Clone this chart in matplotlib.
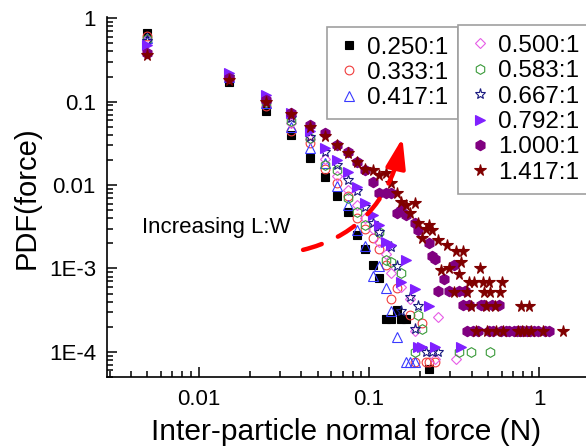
import numpy as np
import matplotlib
matplotlib.use('Agg')
import matplotlib.pyplot as plt

plt.rcParams['font.family'] = ['Liberation Sans', 'DejaVu Sans']

# 长宽比 L:W 各组的接触力分布 (bin 宽 0.01 N)
r250_x = [0.005, 0.015, 0.025, 0.035, 0.045, 0.055, 0.065, 0.075, 0.085, 0.095, 0.105, 0.115,
          0.125, 0.135, 0.145, 0.155, 0.165, 0.225]
r250_y = [0.66, 0.17, 0.078, 0.040, 0.021, 0.0125, 0.0074, 0.0048, 0.0025, 0.0017, 0.0011, 0.00076,
          0.00025, 0.00025, 0.00032, 0.00025, 0.00025, 0.000063]

r333_x = [0.005, 0.015, 0.025, 0.035, 0.045, 0.055, 0.065, 0.075, 0.085, 0.095, 0.105, 0.115,
          0.125, 0.135, 0.145, 0.175, 0.185, 0.205, 0.215, 0.225, 0.245]
r333_y = [0.61, 0.19, 0.089, 0.045, 0.032, 0.0155, 0.0105, 0.0073, 0.0040, 0.0030, 0.0023, 0.0017,
          0.0011, 0.00043, 0.00059, 0.00028, 0.000076, 0.00022, 0.000076, 0.000076, 0.000076]

r417_x = [0.005, 0.015, 0.025, 0.035, 0.045, 0.055, 0.065, 0.075, 0.085, 0.095, 0.105, 0.115,
          0.125, 0.135, 0.145, 0.165, 0.175, 0.185]
r417_y = [0.58, 0.20, 0.095, 0.050, 0.0276, 0.0183, 0.0097, 0.0058, 0.0029, 0.00185, 0.00081, 0.00106,
          0.00059, 0.00031, 0.00015, 0.000076, 0.000076, 0.000076]

r500_x = [0.005, 0.015, 0.025, 0.035, 0.045, 0.055, 0.065, 0.075, 0.085, 0.095, 0.105, 0.115,
          0.125, 0.135, 0.155, 0.175, 0.185, 0.245, 0.255, 0.325]
r500_y = [0.56, 0.20, 0.10, 0.055, 0.036, 0.0204, 0.0128, 0.0087, 0.0058, 0.0040, 0.0030, 0.0021,
          0.0015, 0.00089, 0.0006, 0.00043, 0.00018, 0.000083, 0.00026, 0.000083]

r583_x = [0.005, 0.015, 0.025, 0.035, 0.045, 0.055, 0.065, 0.075, 0.085, 0.095, 0.115, 0.125,
          0.135, 0.155, 0.185, 0.195, 0.205, 0.335, 0.395, 0.515]
r583_y = [0.56, 0.20, 0.10, 0.059, 0.037, 0.0173, 0.0151, 0.0070, 0.0048, 0.0033, 0.0027, 0.00128,
          0.0012, 0.00087, 0.0001, 0.00028, 0.00019, 0.0001, 0.0001, 0.0001]

r667_x = [0.005, 0.015, 0.025, 0.035, 0.045, 0.055, 0.065, 0.075, 0.085, 0.095, 0.105, 0.115,
          0.135, 0.145, 0.155, 0.175, 0.185, 0.195, 0.215, 0.235, 0.255]
r667_y = [0.53, 0.20, 0.10, 0.063, 0.038, 0.0247, 0.0173, 0.0115, 0.0085, 0.0055, 0.0035, 0.0027,
          0.0018, 0.00107, 0.00031, 0.00045, 0.00019, 0.00035, 0.0001, 0.0001, 0.0001]

r792_x = [0.005, 0.015, 0.025, 0.035, 0.045, 0.055, 0.065, 0.075, 0.085, 0.095, 0.105, 0.115,
          0.125, 0.135, 0.155, 0.165, 0.185, 0.195, 0.205, 0.225, 0.245, 0.345]
r792_y = [0.48, 0.22, 0.121, 0.074, 0.045, 0.0276, 0.0199, 0.0144, 0.0095, 0.0061, 0.0044, 0.0033,
          0.0021, 0.0019, 0.00068, 0.00128, 0.00056, 0.000115, 0.000115, 0.00035, 0.000115, 0.000115]

r1000_x = [0.005, 0.015, 0.025, 0.035, 0.045, 0.055, 0.065, 0.075, 0.085, 0.095, 0.105, 0.115,
           0.125, 0.135, 0.145, 0.155, 0.165, 0.185, 0.195, 0.225, 0.235, 0.245, 0.255, 0.275,
           0.295, 0.315, 0.335, 0.355, 0.365, 0.375, 0.385, 0.405, 0.435, 0.455, 0.475, 0.505,
           0.525, 0.535, 0.575, 0.595, 0.635, 0.665, 0.705, 0.735, 0.765, 0.805, 0.845, 0.885,
           0.935, 0.985, 1.075, 1.135]
r1000_y = [0.38, 0.19, 0.105, 0.074, 0.052, 0.042, 0.030, 0.025, 0.0189, 0.0151, 0.0109, 0.0081,
           0.0081, 0.0081, 0.0046, 0.0050, 0.0044, 0.0035, 0.0029, 0.0020, 0.0014, 0.0013, 0.00054, 0.00074,
           0.00054, 0.0011, 0.00054, 0.00036, 0.00054, 0.00018, 0.00036, 0.00018, 0.00018, 0.00036, 0.00036, 0.00018,
           0.00036, 0.00018, 0.00036, 0.00018, 0.00018, 0.00018, 0.00018, 0.00018, 0.00018, 0.00018, 0.00018, 0.00018,
           0.00018, 0.00018, 0.00018, 0.00018]

r1417_x = [0.005, 0.015, 0.025, 0.035, 0.045, 0.055, 0.065, 0.075, 0.085, 0.095, 0.105, 0.115,
           0.125, 0.135, 0.145, 0.155, 0.165, 0.175, 0.185, 0.195, 0.205, 0.215, 0.225, 0.235,
           0.255, 0.265, 0.285, 0.295, 0.315, 0.325, 0.335, 0.345, 0.355, 0.375, 0.385, 0.395,
           0.415, 0.425, 0.445, 0.465, 0.475, 0.485, 0.495, 0.505, 0.515, 0.545, 0.555, 0.585,
           0.605, 0.615, 0.745, 0.775, 0.795, 0.835, 0.865, 0.895, 1.045, 1.365]
r1417_y = [0.36, 0.18, 0.098, 0.072, 0.049, 0.039, 0.030, 0.024, 0.019, 0.0155, 0.0150, 0.0131,
           0.0139, 0.0107, 0.0080, 0.0063, 0.0058, 0.0046, 0.0061, 0.0035, 0.0023, 0.0030, 0.0033, 0.0029,
           0.0022, 0.00097, 0.0019, 0.0010, 0.00052, 0.0016, 0.00085, 0.0012, 0.0016, 0.00052, 0.00069, 0.00035,
           0.00069, 0.00018, 0.0010, 0.00069, 0.00052, 0.00035, 0.00018, 0.00069, 0.00052, 0.00035, 0.00018, 0.00052,
           0.00069, 0.00018, 0.00018, 0.00035, 0.00018, 0.00018, 0.00035, 0.00018, 0.00018, 0.00018]

labels = ['0.250:1', '0.333:1', '0.417:1', '0.500:1', '0.583:1', '0.667:1', '0.792:1', '1.000:1', '1.417:1']
xs = [r250_x, r333_x, r417_x, r500_x, r583_x, r667_x, r792_x, r1000_x, r1417_x]
ys = [r250_y, r333_y, r417_y, r500_y, r583_y, r667_y, r792_y, r1000_y, r1417_y]

# marker, 填充色, 边线色, 大小
styles = [
    ('s', 'black', 'black', 5.3),
    ('o', 'none', '#f03c3c', 6.3),
    ('^', 'none', '#3a3aff', 6.8),
    ('D', 'none', '#e65ce6', 5.3),
    ('h', 'none', '#3a9a3a', 7),
    ('*', 'none', '#1a1a80', 8),
    ('>', '#8020ff', '#8020ff', 6.5),
    ('h', '#800080', '#800080', 7.5),
    ('*', '#800000', '#800000', 8.5),
]

fig = plt.figure(figsize=(5.86, 4.46), dpi=100)
ax = fig.add_axes([0.1826, 0.1536, 0.8174, 0.8072])

handles = []
for x, y, lab, (m, fc, ec, ms) in zip(xs, ys, labels, styles):
    h, = ax.plot(x, y, linestyle='none', marker=m, markerfacecolor=fc,
                 markeredgecolor=ec, markersize=ms, markeredgewidth=0.8, label=lab)
    handles.append(h)

ax.set_xscale('log')
ax.set_yscale('log')
ax.set_xlim(0.0029, 1.875)
ax.set_ylim(4.93e-5, 1.02)

ax.set_xticks([0.01, 0.1, 1])
ax.set_xticklabels(['0.01', '0.1', '1'])
ax.set_yticks([1e-4, 1e-3, 1e-2, 1e-1, 1])
ax.set_yticklabels(['1E-4', '1E-3', '0.01', '0.1', '1'])

ax.spines['top'].set_visible(False)
ax.spines['right'].set_visible(False)
for s in ['left', 'bottom']:
    ax.spines[s].set_linewidth(1.2)
ax.tick_params(which='both', direction='in', width=1.1, labelsize=16)
ax.tick_params(which='major', length=7)
ax.tick_params(which='minor', length=4)
ax.tick_params(axis='x', pad=8)
ax.tick_params(axis='y', pad=8)

ax.set_xlabel('Inter-particle normal force (N)', fontsize=21.5, labelpad=6)
ax.set_ylabel('PDF(force)', fontsize=21, labelpad=6)

ax.text(0.00467, 0.00306, 'Increasing L:W', fontsize=16, ha='left', va='center')

# 红色虚线箭头: 弯曲虚线 + 实心箭头
ax.annotate('', xy=(0.146, 0.0188), xytext=(0.041, 0.00167),
            arrowprops=dict(arrowstyle='-', color='red', lw=3.2, linestyle=(0, (4.4, 4.0)),
                            connectionstyle='arc3,rad=0.28', shrinkA=0, shrinkB=0))
ax.annotate('', xy=(0.157, 0.0366), xytext=(0.146, 0.0188),
            arrowprops=dict(arrowstyle='-|>,head_length=1.8,head_width=0.6', color='red', lw=3,
                            mutation_scale=10, shrinkA=0, shrinkB=0))

leg_kw = dict(loc='upper left', fontsize=17.5, frameon=True, fancybox=False,
              handlelength=1.0, handletextpad=0.25, borderpad=0.4, labelspacing=0.14,
              borderaxespad=0, framealpha=1)
leg1 = ax.legend(handles[:3], labels[:3], bbox_to_anchor=(0.459, 0.974), **leg_kw)
leg1.get_frame().set_edgecolor('#a0a0a0')
leg1.get_frame().set_linewidth(1.2)
ax.add_artist(leg1)
leg2 = ax.legend(handles[3:], labels[3:], bbox_to_anchor=(0.733, 0.979), **leg_kw)
leg2.get_frame().set_edgecolor('#a0a0a0')
leg2.get_frame().set_linewidth(1.2)

fig.savefig('out.png', dpi=100)
